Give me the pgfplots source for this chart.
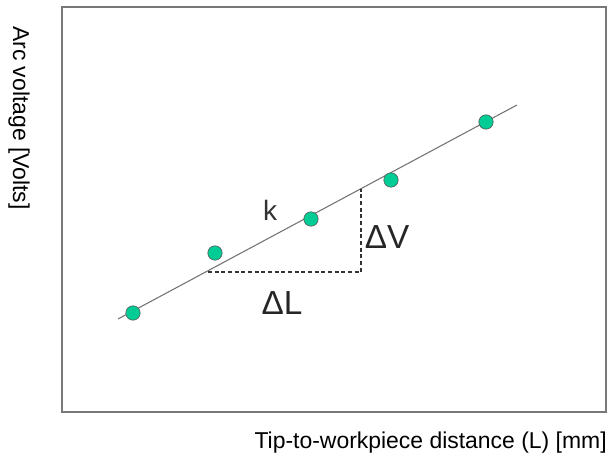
\documentclass[border=0pt]{standalone}
\usepackage{pgfplots}
\pgfplotsset{compat=1.18}
\usepackage{fontspec}
\setmainfont{Liberation Sans}
\definecolor{teal1}{RGB}{0,204,150}
\definecolor{boxgray}{RGB}{120,120,120}
\begin{document}
\begin{tikzpicture}
\begin{axis}[
  x=0.75pt, y=0.75pt,
  xmin=62, xmax=606, ymin=47, ymax=452,
  axis line style={boxgray, line width=1pt},
  ticks=none,
  clip=false,
]
\addplot[gray!90!black, line width=0.8pt] coordinates {(118,140) (517,354)};
\addplot[black!80, dash pattern=on 3pt off 2pt, line width=0.8pt] coordinates {(208,187) (361,187) (361,270)};
\addplot[only marks, mark=*, mark size=5.4pt, mark options={fill=teal1, draw=gray!70!black, line width=0.5pt}]
  coordinates {(133,146) (215,206) (311,240) (391,279) (486,337)};
\node[font=\fontsize{21}{24}\selectfont, text=black!80] at (axis cs:270,249) {k};
\node[font=\fontsize{25}{28}\selectfont, text=black!85] at (axis cs:387,222) {ΔV};
\node[font=\fontsize{25}{28}\selectfont, text=black!85] at (axis cs:282,156) {ΔL};
\node[font=\fontsize{17.2}{19}\selectfont, anchor=east, inner sep=0pt] at (axis cs:607,16) {Tip-to-workpiece distance (L) [mm]};
\node[font=\fontsize{17.2}{19}\selectfont, rotate=-90, inner sep=0pt] at (axis cs:19,341) {Arc voltage [Volts]};
\path (axis cs:0,0) rectangle (axis cs:609,459);
\end{axis}
\end{tikzpicture}
\end{document}
